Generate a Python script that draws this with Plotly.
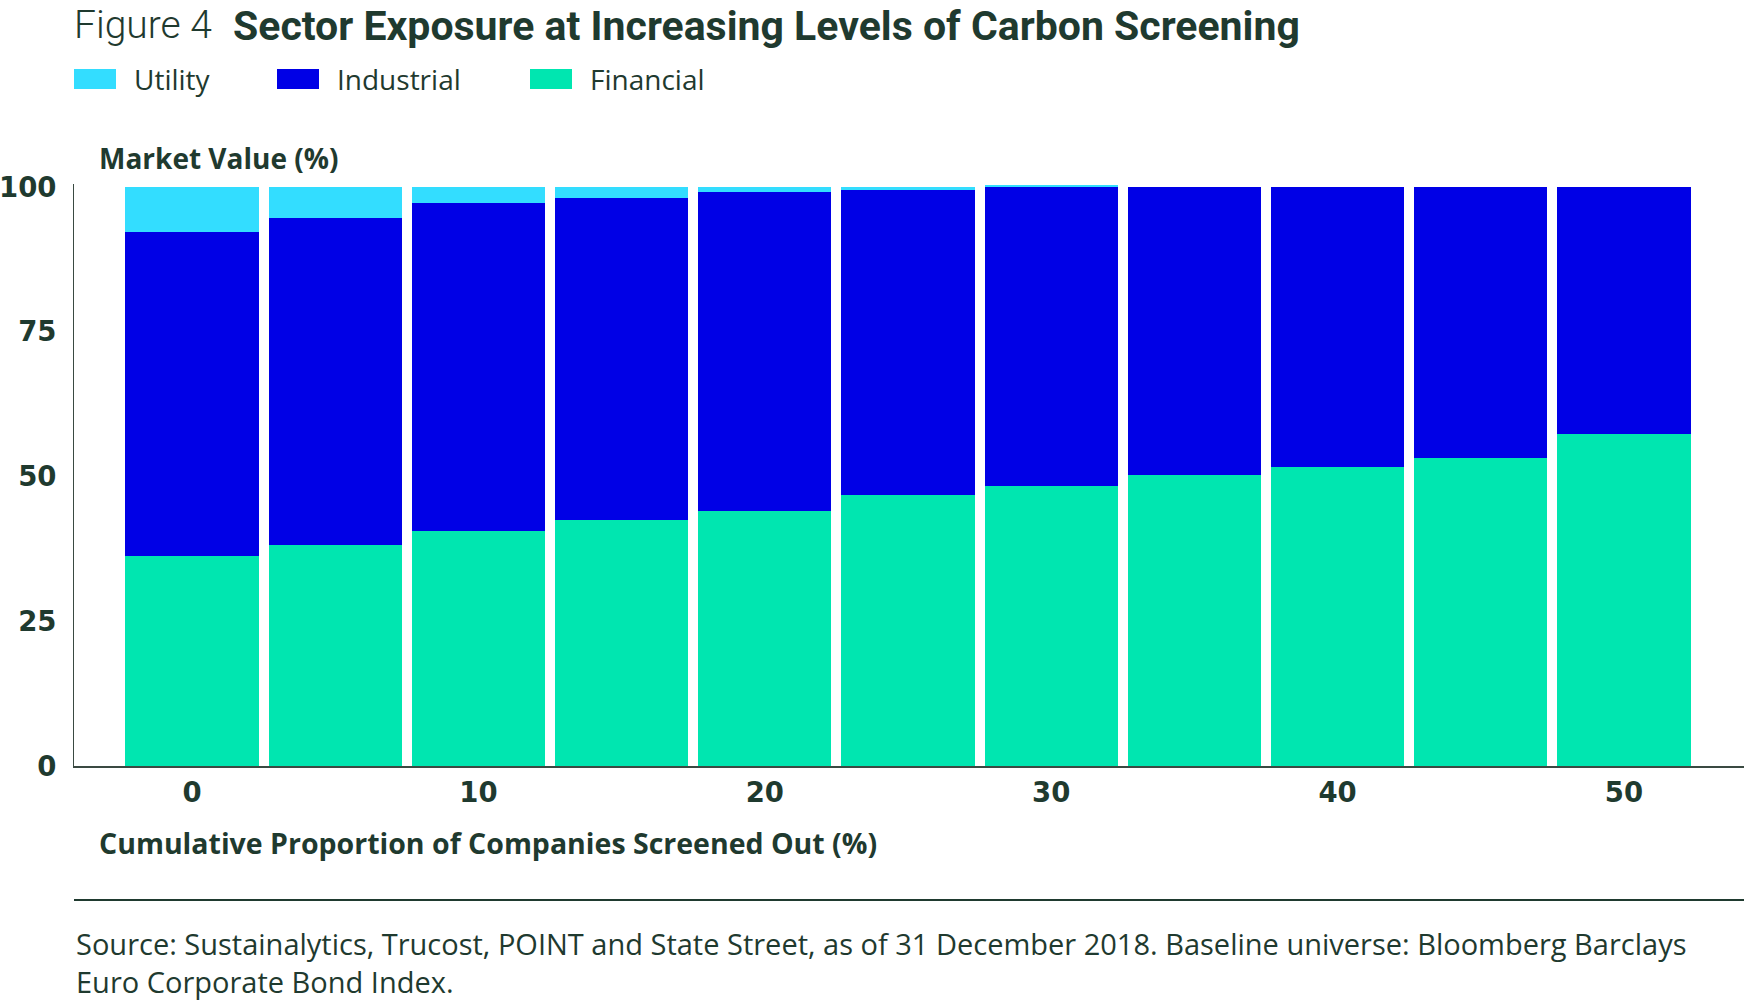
import plotly.graph_objects as go

# ---------------- data ----------------
screened_out = [0, 5, 10, 15, 20, 25, 30, 35, 40, 45, 50]
series_names = ["Financial", "Industrial", "Utility"]
financial = [36.3, 38.2, 40.5, 42.4, 44.1, 46.8, 48.4, 50.3, 51.6, 53.2, 57.4]
industrial = [55.9, 56.4, 56.8, 55.7, 55.1, 52.8, 51.5, 49.7, 48.4, 46.8, 42.6]
utility = [7.8, 5.4, 2.7, 1.9, 0.8, 0.3, 0.4, 0.0, 0.0, 0.0, 0.0]
x_ticks = [0, 10, 20, 30, 40, 50]
y_ticks = [0, 25, 50, 75, 100]
legend_order = ["Utility", "Industrial", "Financial"]

colors = {"Utility": "#33DDFF", "Industrial": "#0000E6", "Financial": "#00E6B0"}
TXT = "#1F3A2F"
FONT = "Open Sans"
TITLE_FONT = "Roboto"
NUM_FONT = "DejaVu Sans"

W, H = 1744, 1002
L, R, T, B = 74, 1744, 184, 766  # plot area in pixels


def px_x(px):
    return (px - L) / (R - L)


def px_y(py):
    return (B - py) / (B - T)


values = {"Financial": financial, "Industrial": industrial, "Utility": utility}

fig = go.Figure()
for name in series_names:
    fig.add_trace(go.Bar(
        x=screened_out, y=values[name], name=name,
        marker=dict(color=colors[name], line=dict(width=0)),
        width=4.65, showlegend=False,
    ))

shapes = []
annotations = []

# legend (custom swatches)
leg_x = [74, 277, 530]
for lx, name in zip(leg_x, legend_order):
    shapes.append(dict(type="rect", xref="paper", yref="paper",
                       x0=px_x(lx), x1=px_x(lx + 42), y0=px_y(89), y1=px_y(69),
                       fillcolor=colors[name], line=dict(width=0)))
    annotations.append(dict(text=name, xref="paper", yref="paper",
                            x=px_x(lx + 58), y=px_y(79), xanchor="left", yanchor="middle",
                            showarrow=False, font=dict(family=FONT, size=28, color=TXT)))

# title
annotations.append(dict(text="Figure 4", xref="paper", yref="paper",
                        x=px_x(72), y=px_y(0), xanchor="left", yanchor="top",
                        showarrow=False, font=dict(family=TITLE_FONT, size=39, color=TXT, weight=300)))
annotations.append(dict(text="<b>Sector Exposure at Increasing Levels of Carbon Screening</b>",
                        xref="paper", yref="paper",
                        x=px_x(231), y=px_y(0), xanchor="left", yanchor="top",
                        showarrow=False, font=dict(family=TITLE_FONT, size=41, color=TXT)))

# axis titles
annotations.append(dict(text="<b>Market Value (%)</b>", xref="paper", yref="paper",
                        x=px_x(97), y=px_y(158), xanchor="left", yanchor="middle",
                        showarrow=False, font=dict(family=FONT, size=28, color=TXT)))
annotations.append(dict(text="<b>Cumulative Proportion of Companies Screened Out (%)</b>",
                        xref="paper", yref="paper",
                        x=px_x(97), y=px_y(843), xanchor="left", yanchor="middle",
                        showarrow=False, font=dict(family=FONT, size=28.5, color=TXT)))

# separator line
shapes.append(dict(type="line", xref="paper", yref="paper",
                   x0=0, x1=1, y0=px_y(900), y1=px_y(900),
                   line=dict(color=TXT, width=2)))

# source
annotations.append(dict(
    text="Source: Sustainalytics, Trucost, POINT and State Street, as of 31 December 2018. Baseline universe: Bloomberg Barclays<br>Euro Corporate Bond Index.",
    xref="paper", yref="paper", x=px_x(74), y=px_y(922), xanchor="left", yanchor="top",
    align="left", showarrow=False, font=dict(family=FONT, size=29, color=TXT)))

fig.update_layout(
    width=W, height=H, autosize=False,
    margin=dict(l=L, r=W - R, t=T, b=H - B),
    paper_bgcolor="white", plot_bgcolor="white",
    barmode="stack",
    shapes=shapes, annotations=annotations,
    showlegend=False,
    font=dict(family=FONT, color=TXT),
)
fig.update_xaxes(range=[-4.12, 54.19], tickvals=x_ticks, ticktext=[str(v) for v in x_ticks],
                 showgrid=False, zeroline=False, showline=True, linecolor="#3A4A42", linewidth=2,
                 ticks="", ticklabelstandoff=1,
                 tickfont=dict(family=NUM_FONT, size=27.5, color=TXT, weight="bold"))
fig.update_yaxes(range=[0, 100.5], tickvals=y_ticks, ticktext=[str(v) for v in y_ticks],
                 showgrid=False, zeroline=False, showline=True, linecolor="#3A4A42", linewidth=1,
                 ticks="", ticklabelstandoff=11,
                 tickfont=dict(family=NUM_FONT, size=27.5, color=TXT, weight="bold"))

fig.write_html("out.html", config={"displayModeBar": False},
               post_script="document.body.style.margin='0';")
